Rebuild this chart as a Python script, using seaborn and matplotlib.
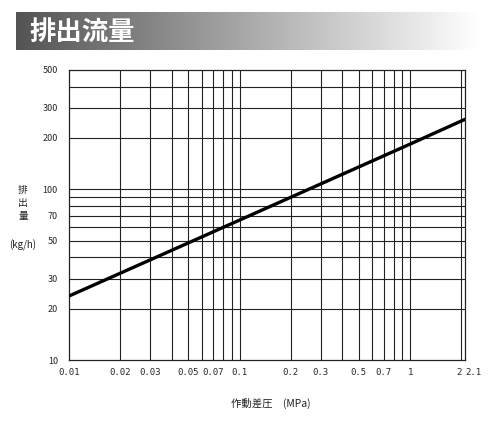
import numpy as np
import pandas as pd
import matplotlib
matplotlib.use("Agg")
import matplotlib.pyplot as plt
from matplotlib.colors import LinearSegmentedColormap
import seaborn as sns

# data
pressure = [0.01, 0.1, 1.0, 2.1]          # MPa
discharge = [23.7, 66.0, 184.0, 257.0]    # kg/h

x_ticks = [0.01, 0.02, 0.03, 0.05, 0.07, 0.1, 0.2, 0.3, 0.5, 0.7, 1, 2, 2.1]
x_tick_labels = ["0.01", "0.02", "0.03", "0.05", "0.07", "0.1",
                 "0.2", "0.3", "0.5", "0.7", "1", "2", "2.1"]
x_grid = [0.02, 0.03, 0.04, 0.05, 0.06, 0.07, 0.08, 0.09, 0.1,
          0.2, 0.3, 0.4, 0.5, 0.6, 0.7, 0.8, 0.9, 1, 2]
y_ticks = [10, 20, 30, 50, 70, 100, 200, 300, 500]
y_grid = [20, 30, 40, 50, 60, 70, 80, 90, 100, 200, 300, 400]

sns.set_style("white")
plt.rcParams['font.family'] = ['Noto Sans CJK JP', 'DejaVu Sans']

df = pd.DataFrame({"pressure": pressure, "discharge": discharge})

fig = plt.figure(figsize=(5, 4.26), dpi=100)

# title banner with grey gradient
banner = fig.add_axes([16 / 500, 1 - 50 / 426, 462 / 500, 38 / 426])
cmap = LinearSegmentedColormap.from_list(
    "banner", ["#545454", "#8c8c8c", "#c6c6c6", "#ffffff"])
banner.imshow(np.linspace(0, 1, 256)[None, :], aspect="auto", cmap=cmap,
              extent=[0, 1, 0, 1])
banner.set_axis_off()
banner.text(0.03, 0.45, "排出流量", color="white", fontsize=19,
            fontweight="bold", va="center", ha="left",
            transform=banner.transAxes)

ax = fig.add_axes([69 / 500, 1 - 360 / 426, 396 / 500, 290 / 426])
ax.set_xscale("log")
ax.set_yscale("log")
ax.set_xlim(0.01, 2.1)
ax.set_ylim(10, 500)

for v in x_grid:
    ax.axvline(v, color="#222222", lw=0.8, zorder=1)
for v in y_grid:
    ax.axhline(v, color="#222222", lw=0.8, zorder=1)

sns.lineplot(data=df, x="pressure", y="discharge", ax=ax, color="black",
             lw=2.4, zorder=3)

ax.minorticks_off()
ax.set_xticks(x_ticks)
ax.set_xticklabels(x_tick_labels, family="DejaVu Sans Mono", fontsize=6.5)
xl = ax.get_xticklabels()
xl[-2].set_ha("right")
xl[-1].set_ha("left")
ax.set_yticks(y_ticks)
ax.set_yticklabels([str(v) for v in y_ticks], fontsize=6.5)
ax.tick_params(axis="x", length=0, pad=6)
ax.tick_params(axis="y", length=0, pad=8)
ax.set_xlabel("")
ax.set_ylabel("")
for s in ax.spines.values():
    s.set_color("#222222")
    s.set_linewidth(0.9)

for ch, yy in zip("排出量", [190, 203, 216]):
    fig.text(23 / 500, 1 - yy / 426, ch, fontsize=7, ha="center",
             va="center", color="#222222")
fig.text(23 / 500, 1 - 245 / 426, "(kg/h)", fontsize=7, ha="center",
         va="center", color="#222222")
fig.text(271 / 500, 1 - 403 / 426, "作動差圧　(MPa)", fontsize=7.5,
         ha="center", va="center", color="#222222")

fig.savefig("out.png", dpi=100, facecolor="white")
